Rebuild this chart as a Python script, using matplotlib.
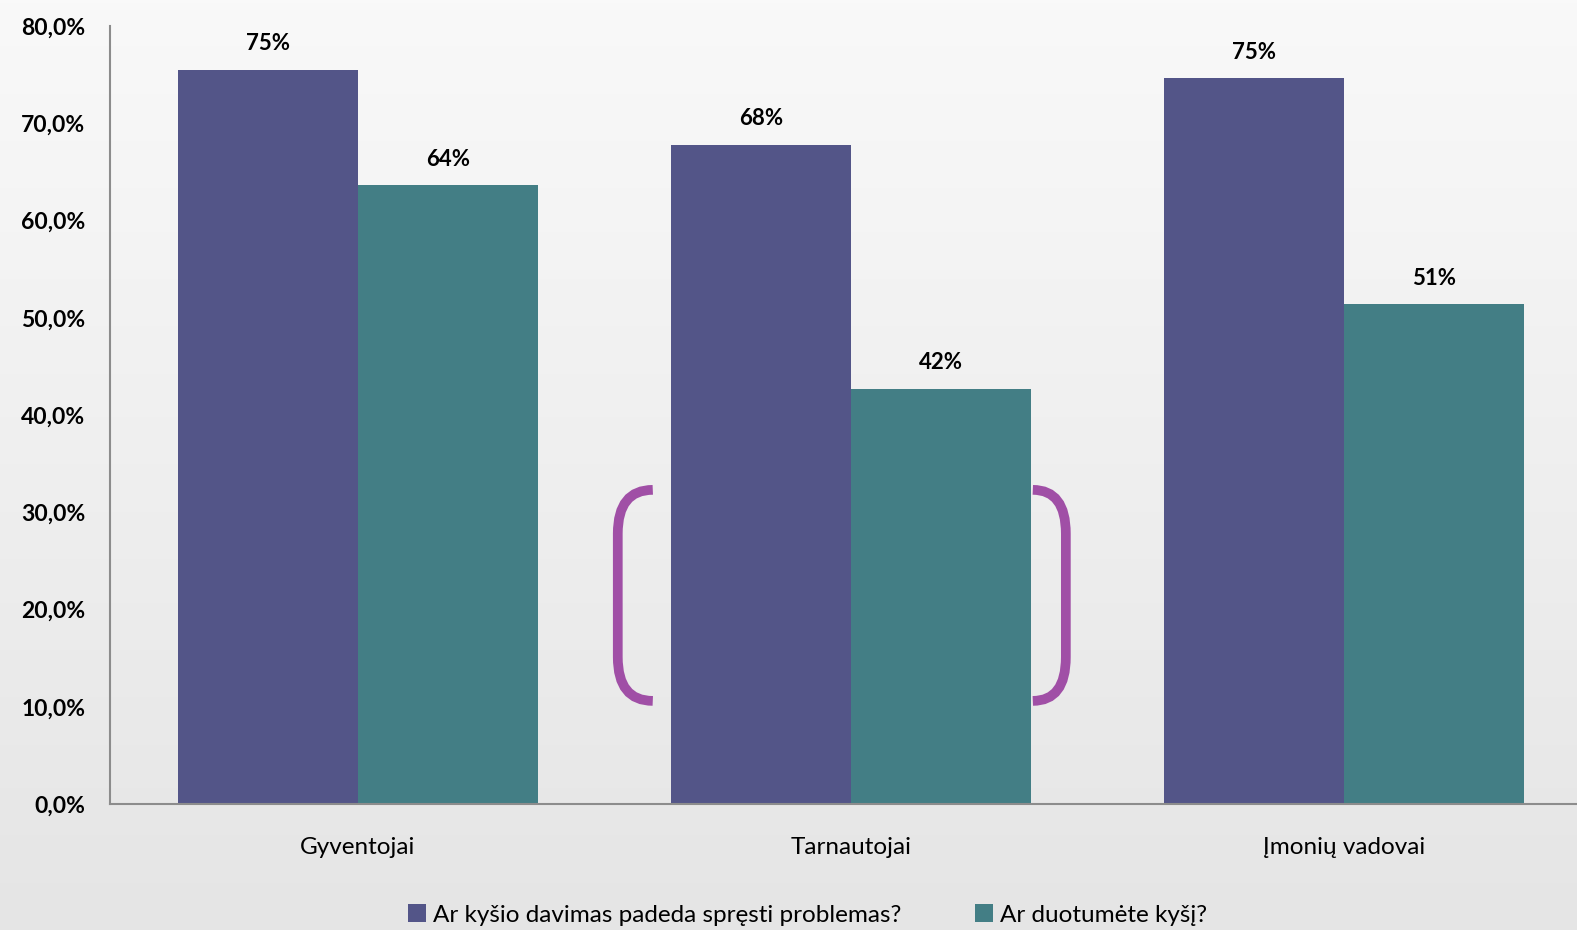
import numpy as np
import matplotlib.pyplot as plt
from matplotlib.path import Path
from matplotlib.patches import PathPatch
from matplotlib.ticker import FuncFormatter

plt.rcParams['font.family'] = ['Lato', 'DejaVu Sans']

# duomenys
kategorijos = ['Gyventojai', 'Tarnautojai', 'Įmonių vadovai']
serijos = ['Ar kyšio davimas padeda spręsti problemas?', 'Ar duotumėte kyšį?']
padeda = [75.5, 67.8, 74.6]
duotu = [63.6, 42.7, 51.4]
etiketes_padeda = ['75%', '68%', '75%']
etiketes_duotu = ['64%', '42%', '51%']
spalvos = ['#535588', '#437e85']
skliaustu_spalva = '#a04fa6'

fig = plt.figure(figsize=(15.77, 9.30), dpi=100)

# fonas su gradientu
bg = fig.add_axes([0, 0, 1, 1], zorder=-10)
grad = np.linspace(0, 1, 256).reshape(-1, 1)
bg.imshow(grad, aspect='auto', cmap=plt.matplotlib.colors.LinearSegmentedColormap.from_list(
    'bg', ['#f9f9f9', '#e5e5e5']), extent=[0, 1, 0, 1], origin='upper')
bg.axis('off')

ax = fig.add_axes([0.0698, 0.1355, 0.9302, 0.8366])
ax.patch.set_alpha(0)

x = np.arange(len(kategorijos))
w = 0.365
b1 = ax.bar(x - w / 2, padeda, w, color=spalvos[0], label=serijos[0])
b2 = ax.bar(x + w / 2, duotu, w, color=spalvos[1], label=serijos[1])

for bars, labels in [(b1, etiketes_padeda), (b2, etiketes_duotu)]:
    for r, t in zip(bars, labels):
        ax.annotate(t, (r.get_x() + r.get_width() / 2, r.get_height()),
                    xytext=(0, 11), textcoords='offset points', ha='center', va='bottom',
                    fontsize=16, fontweight='bold')

ax.set_xlim(-0.503, 2.473)
ax.set_ylim(0, 80)
ax.set_yticks(np.arange(0, 81, 10))
ax.yaxis.set_major_formatter(FuncFormatter(lambda v, p: f'{v:.1f}%'.replace('.', ',')))
ax.set_xticks(x)
ax.set_xticklabels(kategorijos, fontsize=17.5)
ax.tick_params(axis='y', length=0, pad=18, labelsize=16.5)
ax.tick_params(axis='x', length=0, pad=24)
for lab in ax.get_yticklabels():
    lab.set_fontweight('bold')

for s in ['top', 'right']:
    ax.spines[s].set_visible(False)
for s in ['left', 'bottom']:
    ax.spines[s].set_color('#8c8c8c')
    ax.spines[s].set_linewidth(1.5)

# skliaustai aplink Tarnautojai
def skliaustas(xv, xg, yt, yb, ry):
    verts = [(xg, yt), (xv, yt), (xv, yt - ry), (xv, yb + ry), (xv, yb), (xg, yb)]
    codes = [Path.MOVETO, Path.CURVE3, Path.CURVE3, Path.LINETO, Path.CURVE3, Path.CURVE3]
    ax.add_patch(PathPatch(Path(verts, codes), fill=False, edgecolor=skliaustu_spalva,
                           lw=7, capstyle='butt', clip_on=False))

skliaustas(0.527, 0.598, 32.3, 10.6, 4.5)
skliaustas(1.436, 1.369, 32.3, 10.6, 4.5)

fig.legend(handles=[b1, b2], labels=serijos, loc='center', bbox_to_anchor=(0.512, 0.016),
           ncol=2, frameon=False, fontsize=17.5, handlelength=0.75, handleheight=0.75,
           handletextpad=0.3, columnspacing=3.0)

plt.savefig('out.png', dpi=100)
